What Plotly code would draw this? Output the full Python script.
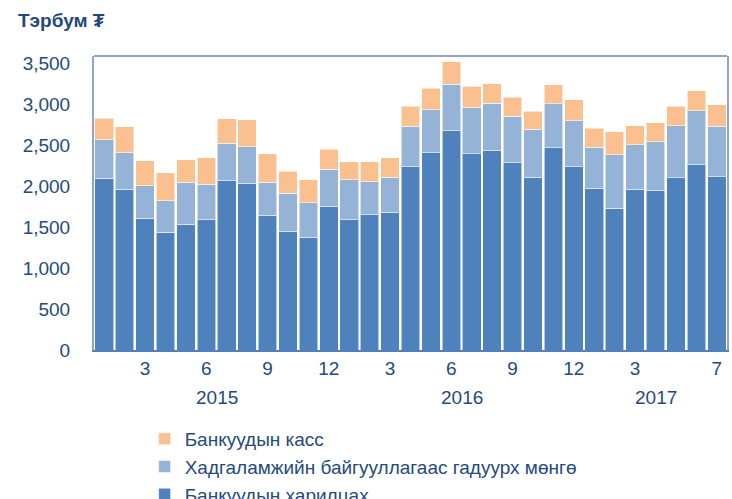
import plotly.graph_objects as go

# ---- data (billion MNT), Jan 2015 - Jul 2017 ----
years = [2015] * 12 + [2016] * 12 + [2017] * 7
months = list(range(1, 13)) + list(range(1, 13)) + list(range(1, 8))
month_labels = ["", "", "3", "", "", "6", "", "", "9", "", "", "12",
                "", "", "3", "", "", "6", "", "", "9", "", "", "12",
                "", "", "3", "", "", "", "7"]

bank_accounts = [2100, 1960, 1606, 1439, 1537, 1589, 2069, 2037, 1646, 1451, 1374, 1748,
                 1589, 1650, 1683, 2240, 2406, 2675, 2398, 2431, 2289, 2110, 2472, 2240,
                 1976, 1728, 1963, 1943, 2101, 2260, 2114]
currency_outside = [470, 447, 398, 382, 512, 435, 455, 447, 403, 464, 427, 459,
                    488, 407, 427, 495, 525, 569, 565, 585, 568, 585, 536, 557,
                    500, 658, 541, 597, 639, 663, 618]
bank_cash = [260, 322, 309, 342, 276, 321, 301, 329, 349, 268, 276, 244,
             224, 244, 235, 241, 268, 276, 257, 236, 232, 223, 232, 260,
             231, 281, 236, 232, 236, 244, 264]

series_names = ["Банкуудын харилцах",
                "Хадгаламжийн байгууллагаас гадуурх мөнгө",
                "Банкуудын касс"]
colors = ["#4F81BD", "#95B3D7", "#FAC090"]

unit_label = "Тэрбум ₮"

# ---- build ----
idx = list(range(len(months)))
FONT = "Liberation Sans, Arial, sans-serif"
TXT = "#254A7E"

fig = go.Figure()
for name, vals, col in zip(series_names, [bank_accounts, currency_outside, bank_cash], colors):
    fig.add_trace(go.Bar(
        x=idx, y=vals, name=name,
        marker=dict(color=col, line=dict(color="rgba(255,255,255,0.55)", width=1)),
    ))

tick_idx = [i for i, t in enumerate(month_labels) if t]
tick_txt = [month_labels[i] for i in tick_idx]

# year labels centred under each year's group of months
for yr in sorted(set(years)):
    ids = [i for i, y in enumerate(years) if y == yr]
    fig.add_annotation(x=sum(ids) / len(ids), y=0, xref="x", yref="paper",
                       yshift=-47, yanchor="middle", text=str(yr), showarrow=False,
                       font=dict(size=19, color=TXT, family=FONT))

fig.add_annotation(x=0, y=1, xref="paper", yref="paper", xshift=-94 + 16, yshift=36,
                   xanchor="left", yanchor="middle", showarrow=False,
                   text="<b>" + unit_label + "</b>",
                   font=dict(size=19, color="#1F497D", family=FONT))

# top border of plot area
fig.add_shape(type="line", xref="paper", yref="paper", x0=0, x1=1, y0=1, y1=1,
              line=dict(color="#8FA6C8", width=2))

fig.update_layout(
    width=732, height=499,
    margin=dict(l=94, r=5, t=56, b=149, autoexpand=False),
    barmode="stack", bargap=0.09,
    plot_bgcolor="white", paper_bgcolor="white",
    font=dict(family=FONT, size=19, color=TXT),
    showlegend=True,
    legend=dict(orientation="v", x=0.08, y=-0.238, xanchor="left", yanchor="top",
                font=dict(size=19, color=TXT, family=FONT),
                bgcolor="rgba(0,0,0,0)", traceorder="reversed",
                itemwidth=30, tracegroupgap=0),
    xaxis=dict(range=[-0.5, len(idx) - 0.5], tickmode="array",
               tickvals=tick_idx, ticktext=tick_txt, ticks="",
               showline=True, linecolor="#4F81BD", linewidth=2,
               showgrid=False, zeroline=False, ticklabelstandoff=0,
               tickfont=dict(size=19, color=TXT)),
    yaxis=dict(range=[0, 3590], tickmode="linear", tick0=0, dtick=500,
               tickformat=",", ticks="", showgrid=False, zeroline=False,
               showline=True, linecolor="#8FA6C8", linewidth=2, mirror=True,
               ticklabelstandoff=18, tickfont=dict(size=19, color=TXT)),
)

fig.write_html("out.html", config={"displayModeBar": False},
               post_script="document.body.style.margin='0';")
